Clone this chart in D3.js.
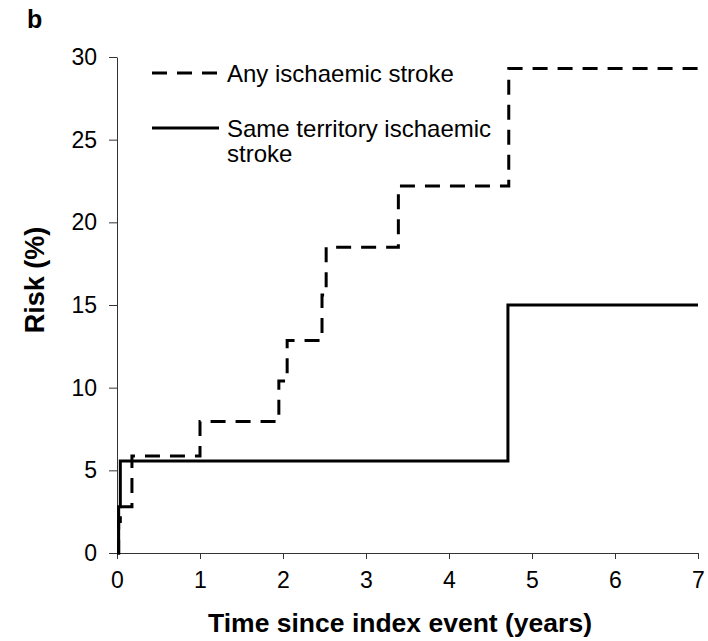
<!DOCTYPE html>
<html>
<head>
<meta charset="utf-8">
<script src="https://cdn.jsdelivr.net/npm/d3@7"></script>
<style>
	body { margin: 0; background: #fff; }
	text { font-family: "Liberation Sans", Arial, sans-serif; fill: #000; }
</style>
</head>
<body>
<div id="chart"></div>
<script>
// step points (years, %)
var anyTimes = [0, 0.02, 0.04, 0.18, 1.0, 1.95, 2.05, 2.47, 2.52, 3.39, 4.72, 7];
var anyRisk  = [0, 1.9, 2.8, 5.87, 7.95, 10.4, 12.85, 15.6, 18.5, 22.2, 29.3, 29.3];
var sameTimes = [0, 0.02, 0.04, 4.71, 7];
var sameRisk  = [0, 2.8, 5.57, 15.0, 15.0];
var xTicks = [0, 1, 2, 3, 4, 5, 6, 7];
var yTicks = [0, 5, 10, 15, 20, 25, 30];
var legendLabels = ["Any ischaemic stroke", ["Same territory ischaemic", "stroke"]];

var W = 708, H = 641;
var margin = {top: 57, right: 10, bottom: 88, left: 117};
var w = W - margin.left - margin.right,
	h = H - margin.top - margin.bottom;

var svg = d3.select("#chart").append("svg")
	.attr("width", W)
	.attr("height", H);

var g = svg.append("g")
	.attr("transform", "translate(" + margin.left + "," + margin.top + ")");

var x = d3.scaleLinear().domain([0, 7]).range([0, w]);
var y = d3.scaleLinear().domain([0, 30]).range([h, 0]);

// axes
var xAxis = g.append("g")
	.attr("transform", "translate(0," + h + ")")
	.call(d3.axisBottom(x).tickValues(xTicks).tickFormat(d3.format("d"))
		.tickSize(6).tickPadding(13).tickSizeOuter(0));
var yAxis = g.append("g")
	.call(d3.axisLeft(y).tickValues(yTicks).tickFormat(d3.format("d"))
		.tickSize(8).tickPadding(12).tickSizeOuter(0));

[xAxis, yAxis].forEach(function(a) {
	a.select(".domain").attr("stroke", "#333");
	a.selectAll(".tick line").attr("stroke", "#333");
	a.selectAll(".tick text")
		.style("font-family", "'Liberation Sans', Arial, sans-serif")
		.style("font-size", "23px")
		.attr("fill", "#000");
});

// step lines
var line = d3.line()
	.x(function(d) { return x(d[0]); })
	.y(function(d) { return y(d[1]); })
	.curve(d3.curveStepAfter);

var anyData = anyTimes.map(function(t, i) { return [t, anyRisk[i]]; });
var sameData = sameTimes.map(function(t, i) { return [t, sameRisk[i]]; });

g.append("path")
	.datum(anyData)
	.attr("d", line)
	.attr("fill", "none")
	.attr("stroke", "#000")
	.attr("stroke-width", 3)
	.attr("stroke-dasharray", "15,10");

g.append("path")
	.datum(sameData)
	.attr("d", line)
	.attr("fill", "none")
	.attr("stroke", "#000")
	.attr("stroke-width", 3);

// legend
var leg = svg.append("g").attr("transform", "translate(152,73)");
leg.append("line")
	.attr("x1", 0).attr("x2", 67).attr("y1", 0).attr("y2", 0)
	.attr("stroke", "#000").attr("stroke-width", 3)
	.attr("stroke-dasharray", "15,10");
leg.append("text")
	.attr("x", 75).attr("y", 9)
	.style("font-size", "24px")
	.text(legendLabels[0]);
leg.append("line")
	.attr("x1", 0).attr("x2", 67).attr("y1", 55).attr("y2", 55)
	.attr("stroke", "#000").attr("stroke-width", 3);
var t2 = leg.append("text")
	.attr("x", 75).attr("y", 64)
	.style("font-size", "24px");
t2.append("tspan").attr("x", 75).text(legendLabels[1][0]);
t2.append("tspan").attr("x", 75).attr("dy", 25).text(legendLabels[1][1]);

// axis titles
svg.append("text")
	.attr("x", 400)
	.attr("y", 632)
	.attr("text-anchor", "middle")
	.style("font-size", "26.5px")
	.style("font-weight", "bold")
	.text("Time since index event (years)");

svg.append("text")
	.attr("transform", "translate(44,280) rotate(-90)")
	.attr("text-anchor", "middle")
	.style("font-size", "27px")
	.style("font-weight", "bold")
	.text("Risk (%)");

svg.append("text")
	.attr("x", 27).attr("y", 28)
	.style("font-size", "25px")
	.style("font-weight", "bold")
	.text("b");
</script>
</body>
</html>
